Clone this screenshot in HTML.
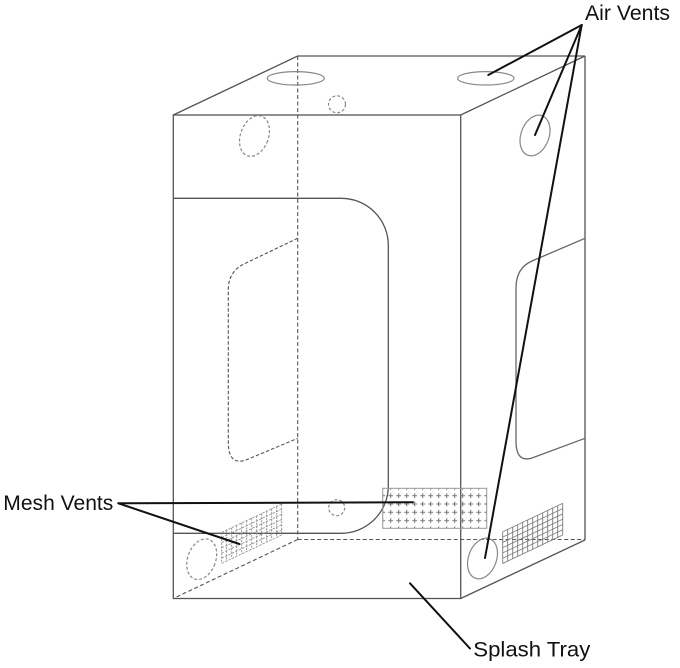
<!DOCTYPE html>
<html>
<head>
<meta charset="utf-8">
<style>
html,body{margin:0;padding:0;background:#fff;}
svg{display:block;}
text{font-family:"Liberation Sans",sans-serif;font-size:21px;fill:#111;}
</style>
</head>
<body>
<svg width="680" height="668" viewBox="0 0 680 668" xmlns="http://www.w3.org/2000/svg">
<defs>
  <pattern id="plus" patternUnits="userSpaceOnUse" x="386.7" y="491.55" width="8" height="8.3">
    <path d="M1.5 4.15H6.5M4 1.65V6.65" stroke="#777" stroke-width="1" fill="none"/>
  </pattern>
</defs>

<g fill="none" stroke="#555" stroke-width="1.3">
  <!-- top face -->
  <polyline points="173.3,115 297.7,56 585,56 460.7,115"/>
  <!-- front face -->
  <rect x="173.3" y="115" width="287.4" height="483.5"/>
  <!-- right face -->
  <line x1="585" y1="56" x2="585" y2="540"/>
  <line x1="460.7" y1="598.5" x2="585" y2="540"/>
  <!-- hidden edges -->
  <g stroke-dasharray="4 2.5" stroke-width="1.1">
    <line x1="297.7" y1="56" x2="297.7" y2="539.5"/>
    <line x1="297.7" y1="539.5" x2="585" y2="539.5"/>
    <line x1="297.7" y1="539.5" x2="173.3" y2="598.5"/>
  </g>
  <!-- front door -->
  <path d="M173.3,198.3 H341.5 A47 47 0 0 1 388.3,245.3 V486 A47.3 47.3 0 0 1 341,533.3 H173.3"/>
  <!-- left wall window (hidden) -->
  <path stroke-dasharray="3.5 2" stroke-width="1.1" d="M297.7,238.3 L245,263.5 Q228.3,271 228.3,290 L228.3,442 Q228.3,466 246,460 L297.7,438.3"/>
  <!-- right wall window -->
  <path stroke="#666" d="M585,238.3 L532,261 Q516,268 516,288 L516,441 Q516,463 532,458 L585,438.3"/>
</g>

<!-- vents (ellipses) -->
<g fill="none" stroke="#888" stroke-width="1.2">
  <ellipse cx="295.8" cy="78.3" rx="28.5" ry="6.7"/>
  <ellipse cx="485.8" cy="78.3" rx="28.2" ry="6.7"/>
  <ellipse cx="535" cy="135.5" rx="14" ry="21" transform="rotate(20 535 135.5)"/>
  <ellipse cx="482.5" cy="558.5" rx="14" ry="21" transform="rotate(20 482.5 558.5)"/>
  <g stroke-dasharray="3 2">
    <circle cx="337" cy="104.3" r="8.5"/>
    <ellipse cx="254.5" cy="136" rx="14" ry="21" transform="rotate(20 254.5 136)"/>
    <ellipse cx="201.7" cy="559.2" rx="14" ry="21" transform="rotate(20 201.7 559.2)"/>
    <circle cx="336.7" cy="507.7" r="8"/>
  </g>
</g>

<!-- back wall mesh -->
<rect x="382.7" y="488.3" width="104" height="40" fill="url(#plus)" stroke="#999" stroke-width="1"/>

<!-- right wall mesh -->
<g transform="matrix(1,-0.475,0,1,502.7,531.8)" fill="none" stroke="#7a7a7a" stroke-width="0.9">
  <path d="M0 0V31.7M5 0V31.7M10 0V31.7M15 0V31.7M20 0V31.7M25 0V31.7M30 0V31.7M35 0V31.7M40 0V31.7M45 0V31.7M50 0V31.7M55 0V31.7M60 0V31.7"/>
  <path d="M0 0H60M0 5.28H60M0 10.57H60M0 15.85H60M0 21.13H60M0 26.42H60M0 31.7H60"/>
</g>

<!-- left wall mesh (hidden) -->
<g transform="matrix(1,-0.473,0,1,221.7,532.4)" fill="none" stroke="#8a8a8a" stroke-width="0.9" stroke-dasharray="2.2 1.2">
  <path d="M0 0V31M5 0V31M10 0V31M15 0V31M20 0V31M25 0V31M30 0V31M35 0V31M40 0V31M45 0V31M50 0V31M55 0V31M60 0V31"/>
  <path d="M0 0H60M0 5.17H60M0 10.33H60M0 15.5H60M0 20.67H60M0 25.83H60M0 31H60"/>
</g>

<!-- leader lines -->
<g stroke="#111" stroke-width="2" fill="none" stroke-linecap="round">
  <line x1="581.7" y1="25" x2="488.3" y2="75"/>
  <line x1="581.7" y1="25" x2="535" y2="135"/>
  <line x1="581.7" y1="25" x2="485" y2="558"/>
  <line x1="118.3" y1="503.3" x2="413" y2="502.3"/>
  <line x1="118.3" y1="503.3" x2="239.3" y2="544"/>
  <line x1="410" y1="583.3" x2="470" y2="648.5"/>
</g>

<!-- labels -->
<text x="585" y="20" textLength="85" lengthAdjust="spacingAndGlyphs">Air Vents</text>
<text x="3.3" y="510" textLength="110" lengthAdjust="spacingAndGlyphs">Mesh Vents</text>
<text x="473.3" y="656.5" textLength="117" lengthAdjust="spacingAndGlyphs">Splash Tray</text>
</svg>
</body>
</html>
